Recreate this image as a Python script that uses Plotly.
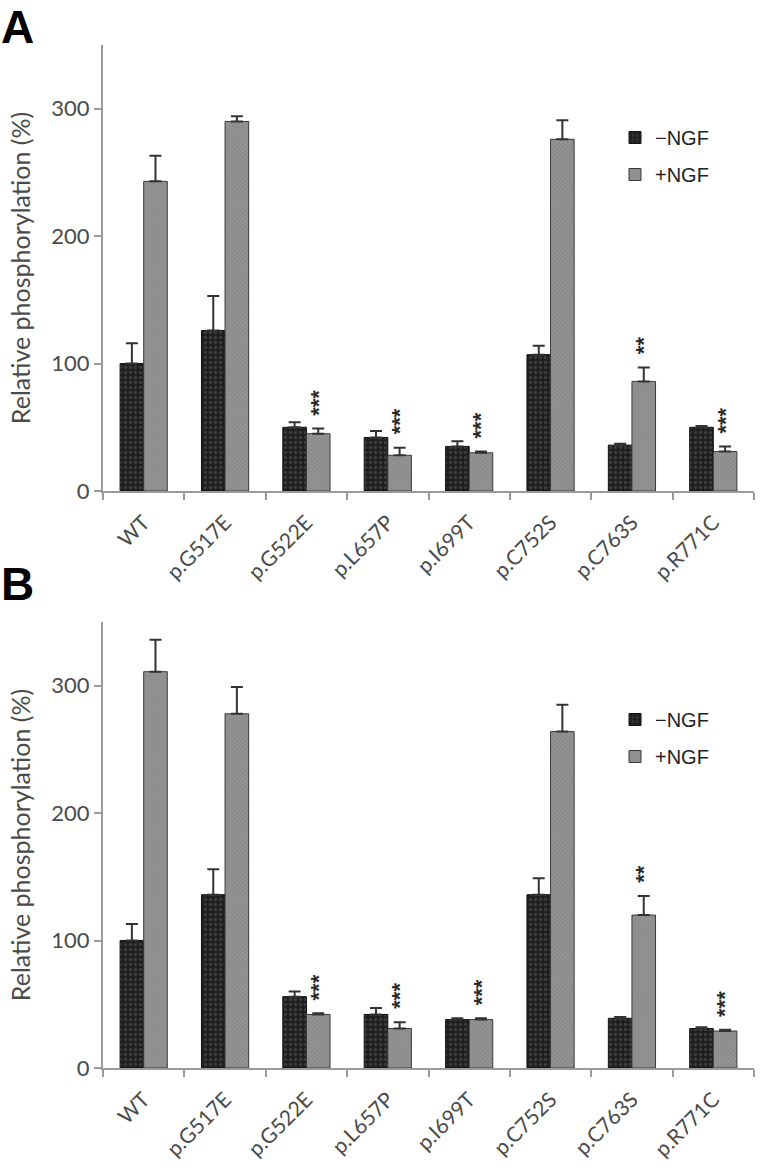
import plotly.graph_objects as go

categories = ["WT", "p.G517E", "p.G522E", "p.L657P", "p.I699T", "p.C752S", "p.C763S", "p.R771C"]

# Panel A
a_minus = [100, 126, 50, 42, 35, 107, 36, 50]
a_minus_err = [16, 27, 4, 5, 4, 7, 1, 1]
a_plus = [243, 290, 45, 28, 30, 276, 86, 31]
a_plus_err = [20, 4, 4, 6, 1, 15, 11, 4]
a_sig = ["", "", "***", "***", "***", "", "**", "***"]

# Panel B
b_minus = [100, 136, 56, 42, 38, 136, 39, 31]
b_minus_err = [13, 20, 4, 5, 1, 13, 1, 1]
b_plus = [311, 278, 42, 31, 38, 264, 120, 29]
b_plus_err = [25, 21, 1, 5, 1, 21, 15, 1]
b_sig = ["", "", "***", "***", "***", "", "**", "***"]

y_ticks = [0, 100, 200, 300]
legend_names = ["\u2212NGF", "+NGF"]

W, H = 760, 1170
FONT = "Lato"
AXIS_COL = "#9a9a9a"
TXT_COL = "#4a4a4a"


def px_x(p):
    return p / W


def px_y(p):
    return 1 - p / H


minus_marker = dict(
    color="#1e1e1e",
    line=dict(color="#111111", width=1),
    pattern=dict(shape=".", size=5, solidity=0.35, fgcolor="#5a5a5a", bgcolor="#1e1e1e", fillmode="overlay"),
)
plus_marker = dict(
    color="#8a8a8a",
    line=dict(color="#3a3a3a", width=1),
    pattern=dict(shape="x", size=3, solidity=0.3, fgcolor="#bdbdbd", bgcolor="#8a8a8a", fillmode="overlay"),
)

fig = go.Figure()

panels = [
    dict(minus=a_minus, me=a_minus_err, plus=a_plus, pe=a_plus_err, sig=a_sig,
         xa="x", ya="y", legend="legend"),
    dict(minus=b_minus, me=b_minus_err, plus=b_plus, pe=b_plus_err, sig=b_sig,
         xa="x2", ya="y2", legend="legend2"),
]

for p in panels:
    fig.add_trace(go.Bar(
        x=categories, y=p["minus"], name=legend_names[0], marker=minus_marker,
        error_y=dict(type="data", symmetric=False, array=p["me"], arrayminus=[0] * len(categories),
                     color="#333333", thickness=2, width=6),
        xaxis=p["xa"], yaxis=p["ya"], legend=p["legend"], legendgroup=p["legend"] + "m",
    ))
    fig.add_trace(go.Bar(
        x=categories, y=p["plus"], name=legend_names[1], marker=plus_marker,
        error_y=dict(type="data", symmetric=False, array=p["pe"], arrayminus=[0] * len(categories),
                     color="#333333", thickness=2, width=6),
        xaxis=p["xa"], yaxis=p["ya"], legend=p["legend"], legendgroup=p["legend"] + "p",
    ))

bargap = 0.42
offset = (1 - bargap) / 4

annotations = []
for p in panels:
    for i, s in enumerate(p["sig"]):
        if s:
            annotations.append(dict(
                x=i + offset, y=p["plus"][i] + p["pe"][i], xref=p["xa"], yref=p["ya"],
                text="<b>" + s + "</b>", showarrow=False, textangle=-90, yanchor="bottom", xanchor="center",
                yshift=11, font=dict(family="Liberation Sans", size=22, color="#2a2a2a"),
            ))

annotations.append(dict(x=0, y=1, xref="paper", yref="paper", text="<b>A</b>",
                        showarrow=False, xanchor="left", yanchor="top", borderpad=0,
                        font=dict(family="Liberation Sans", size=46, color="#000000")))
annotations.append(dict(x=0, y=px_y(557), xref="paper", yref="paper", text="<b>B</b>",
                        showarrow=False, xanchor="left", yanchor="top", borderpad=0,
                        font=dict(family="Liberation Sans", size=46, color="#000000")))

xdom = [px_x(103), px_x(754)]
ya_dom = [px_y(491), px_y(45)]
yb_dom = [px_y(1068), px_y(622)]


def xaxis_cfg(anchor):
    return dict(domain=xdom, anchor=anchor, type="category", range=[-0.5, 7.5],
                showline=True, linecolor=AXIS_COL, linewidth=2, ticks="outside",
                tickson="boundaries", ticklen=7, tickcolor=AXIS_COL, tickwidth=2,
                tickangle=-45, showgrid=False, zeroline=False, automargin=False,
                ticklabelstandoff=9,
                tickfont=dict(family=FONT, size=21, color=TXT_COL))


def yaxis_cfg(dom, anchor):
    return dict(domain=dom, anchor=anchor, range=[0, 350], tickvals=y_ticks,
                showline=True, linecolor=AXIS_COL, linewidth=2, ticks="outside",
                ticklen=7, tickcolor=AXIS_COL, tickwidth=2, showgrid=False, zeroline=False,
                automargin=False, tickfont=dict(family=FONT, size=22, color=TXT_COL),
                title=dict(text="Relative phosphorylation (%)", standoff=14,
                           font=dict(family=FONT, size=25, color=TXT_COL)))


legend_common = dict(xanchor="left", yanchor="top", bgcolor="rgba(0,0,0,0)",
                     font=dict(family="Liberation Sans", size=20, color="#222222"),
                     tracegroupgap=8, itemwidth=30)

fig.update_layout(
    width=W, height=H,
    margin=dict(l=0, r=0, t=0, b=0),
    paper_bgcolor="white", plot_bgcolor="white",
    barmode="group", bargap=bargap, bargroupgap=0,
    xaxis=xaxis_cfg("y"), yaxis=yaxis_cfg(ya_dom, "x"),
    xaxis2=xaxis_cfg("y2"), yaxis2=yaxis_cfg(yb_dom, "x2"),
    legend=dict(x=px_x(615), y=px_y(118), **legend_common),
    legend2=dict(x=px_x(615), y=px_y(700), **legend_common),
    annotations=annotations,
    showlegend=True,
)

fig.write_html("out.html", config={"displayModeBar": False},
               post_script="document.body.style.margin='0';document.body.style.overflow='hidden';")
